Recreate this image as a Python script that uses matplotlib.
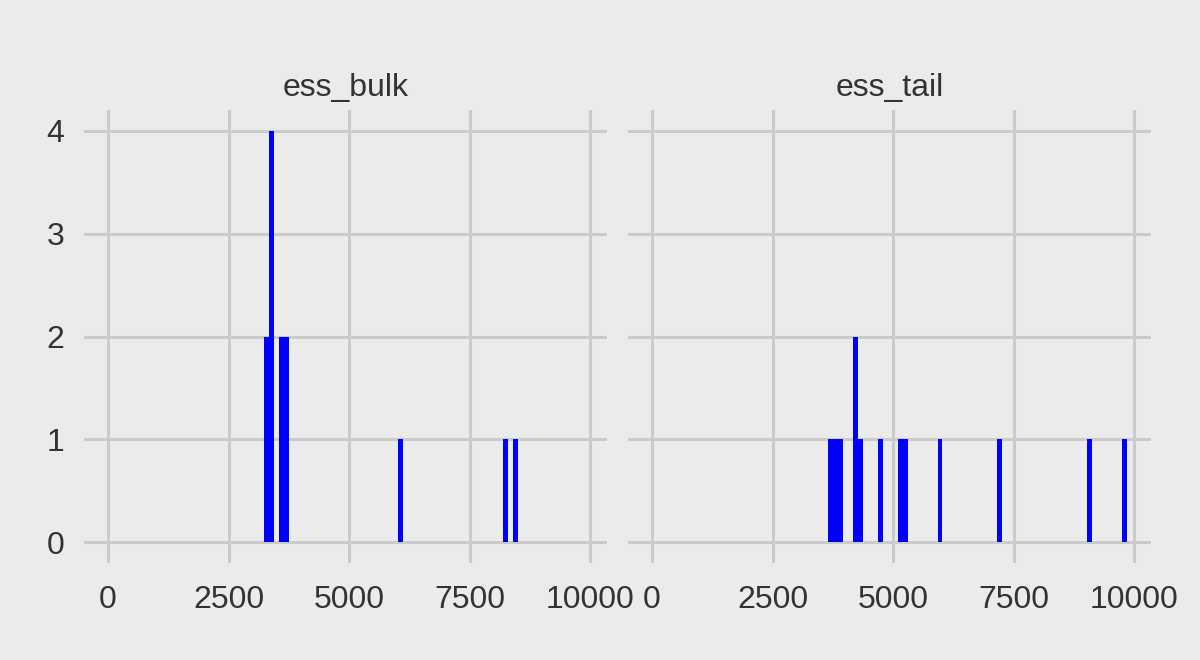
import matplotlib
matplotlib.use("Agg")
import matplotlib.pyplot as plt
import numpy as np

# ess values per parameter
ess_bulk = [3280, 3300, 3380, 3390, 3400, 3410, 3590, 3600, 3690, 3700,
            6080, 8250, 8460]
ess_tail = [3700, 3800, 3900, 4200, 4210, 4310, 4720, 5140, 5240, 6000,
            7210, 9100, 9800]
panels = ["ess_bulk", "ess_tail"]
xticks = [0, 2500, 5000, 7500, 10000]
yticks = [0, 1, 2, 3, 4]

bg = "#ebebeb"
grid = "#cbcbcb"
txt = "#333333"

binw = 103.5
edges = 3230 + binw * np.arange(-40, 80)

fig = plt.figure(figsize=(12, 6.6), dpi=100, facecolor=bg)
plt.rcParams['font.family'] = ['Liberation Sans', 'DejaVu Sans']

lefts = [84 / 1200, 628 / 1200]
for i, (name, vals) in enumerate(zip(panels, [ess_bulk, ess_tail])):
    ax = fig.add_axes([lefts[i], 1 - 563 / 660, 523 / 1200, 453 / 660])
    ax.set_facecolor(bg)
    ax.hist(vals, bins=edges, color="#0000ff", zorder=3)
    ax.set_xlim(-500, 10350)
    ax.set_ylim(-0.2, 4.2)
    ax.set_xticks(xticks)
    ax.set_yticks(yticks)
    ax.grid(True, color=grid, linewidth=2.2, zorder=0)
    ax.set_axisbelow(True)
    for s in ax.spines.values():
        s.set_visible(False)
    ax.tick_params(length=0, labelsize=23, colors=txt)
    ax.tick_params(axis="x", pad=16)
    ax.tick_params(axis="y", pad=14)
    if i == 1:
        ax.set_yticklabels([])
    ax.set_title(name, fontsize=23, color=txt, pad=10)

fig.savefig("out.png", facecolor=bg)
